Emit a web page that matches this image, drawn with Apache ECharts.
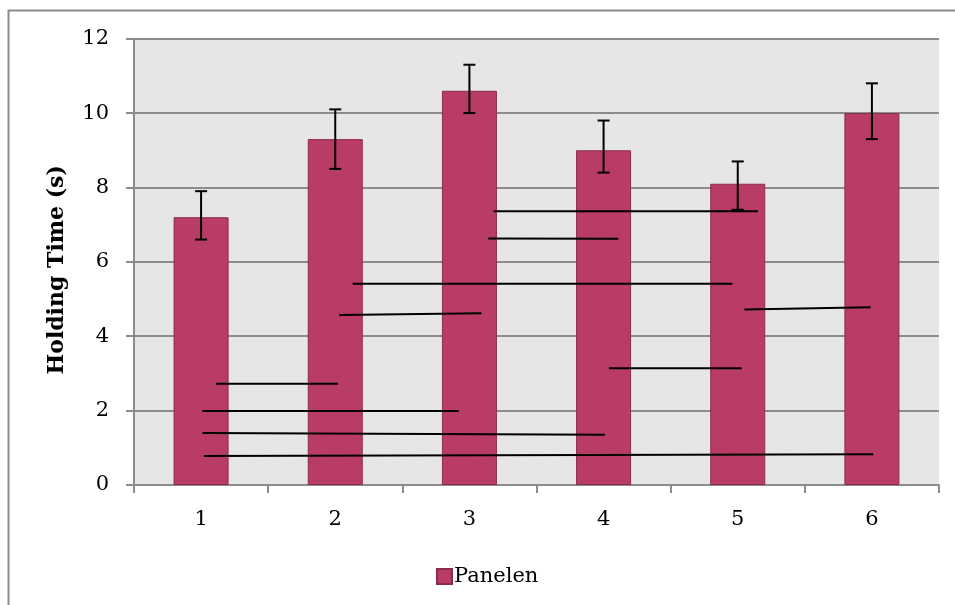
<!DOCTYPE html>
<html>
<head>
<meta charset="utf-8">
<script src="https://cdn.jsdelivr.net/npm/echarts@6/dist/echarts.min.js"></script>
<style>html,body{margin:0;padding:0;background:#fff;}#c{width:955px;height:605px;}</style>
</head>
<body>
<div id="c"></div>
<script>
const categories = ['1', '2', '3', '4', '5', '6'];
const values = [7.2, 9.3, 10.6, 9.0, 8.1, 10.0];
const errLow = [6.6, 8.5, 10.0, 8.4, 7.4, 9.3];
const errHigh = [7.9, 10.1, 11.3, 9.8, 8.7, 10.8];
const yTicks = [0, 2, 4, 6, 8, 10, 12];
// significance lines: start x, start y, end x, end y (x in category units, 1..6)
const sigX1 = [1.11, 1.01, 1.01, 1.02, 2.03, 2.13, 3.14, 3.18, 4.04, 5.05];
const sigY1 = [2.72, 1.99, 1.40, 0.78, 4.57, 5.41, 6.63, 7.36, 3.14, 4.72];
const sigX2 = [2.02, 2.92, 4.01, 6.01, 3.09, 4.96, 4.11, 5.15, 5.03, 5.99];
const sigY2 = [2.72, 1.99, 1.35, 0.83, 4.62, 5.41, 6.62, 7.36, 3.14, 4.78];

const font = 'DejaVu Serif';
const gridColor = '#8c8c8c';

const chart = echarts.init(document.getElementById('c'));

const sigSeries = sigX1.map((x, i) => ({
  type: 'line',
  xAxisIndex: 1,
  yAxisIndex: 0,
  data: [[x, sigY1[i]], [sigX2[i], sigY2[i]]],
  symbol: 'none',
  silent: true,
  z: 5,
  lineStyle: { color: '#000', width: 2 }
}));

chart.setOption({
  animation: false,
  backgroundColor: '#fff',
  graphic: [{
    type: 'rect',
    shape: { x: 8.5, y: 10.5, width: 980, height: 620 },
    style: { fill: 'none', stroke: gridColor, lineWidth: 2 },
    silent: true
  }],
  grid: { left: 134, right: 16, top: 38.7, bottom: 120, backgroundColor: '#e6e6e6', show: true, borderWidth: 0 },
  legend: {
    data: ['Panelen'],
    left: 431, top: 561,
    itemWidth: 15, itemHeight: 15, itemGap: 5,
    icon: 'rect',
    textStyle: { fontFamily: font, fontSize: 21, color: '#000', padding: [0, 0, 0, -3] }
  },
  xAxis: [{
    type: 'category',
    data: categories,
    axisLine: { lineStyle: { color: gridColor, width: 2 } },
    axisTick: { show: true, length: 8, lineStyle: { color: gridColor, width: 2 } },
    axisLabel: { fontFamily: font, fontSize: 21, color: '#000', margin: 24 },
    splitLine: { show: false }
  }, {
    type: 'value',
    min: 0.5, max: 6.5,
    show: false
  }],
  yAxis: {
    type: 'value',
    min: 0, max: 12, interval: 2,
    name: 'Holding Time (s)',
    nameLocation: 'middle',
    nameGap: 66,
    nameTextStyle: { fontFamily: font, fontSize: 22, fontWeight: 'bold', color: '#000', padding: [0, 0, 0, -16] },
    axisLine: { show: true, lineStyle: { color: gridColor, width: 2 } },
    axisTick: { show: true, length: 8, lineStyle: { color: gridColor, width: 2 } },
    axisLabel: { fontFamily: font, fontSize: 21, color: '#000', margin: 25,
      formatter: v => yTicks.includes(v) ? String(v) : '' },
    splitLine: { lineStyle: { color: gridColor, width: 2 } }
  },
  series: [{
    name: 'Panelen',
    type: 'bar',
    data: values,
    barWidth: '41%',
    itemStyle: { color: '#b83c67', borderColor: '#8c2b4f', borderWidth: 1 },
    z: 2
  }, {
    type: 'custom',
    name: 'err',
    data: categories.map((c, i) => [i, errLow[i], errHigh[i]]),
    encode: { x: 0, y: [1, 2] },
    z: 6,
    silent: true,
    renderItem: function (params, api) {
      const i = api.value(0);
      const lo = api.coord([i, api.value(1)]);
      const hi = api.coord([i, api.value(2)]);
      const w = 6;
      const st = { stroke: '#000', lineWidth: 2 };
      return {
        type: 'group',
        children: [
          { type: 'line', shape: { x1: hi[0], y1: hi[1], x2: lo[0], y2: lo[1] }, style: st },
          { type: 'line', shape: { x1: hi[0] - w, y1: hi[1], x2: hi[0] + w, y2: hi[1] }, style: st },
          { type: 'line', shape: { x1: lo[0] - w, y1: lo[1], x2: lo[0] + w, y2: lo[1] }, style: st }
        ]
      };
    }
  }].concat(sigSeries)
});
</script>
</body>
</html>
